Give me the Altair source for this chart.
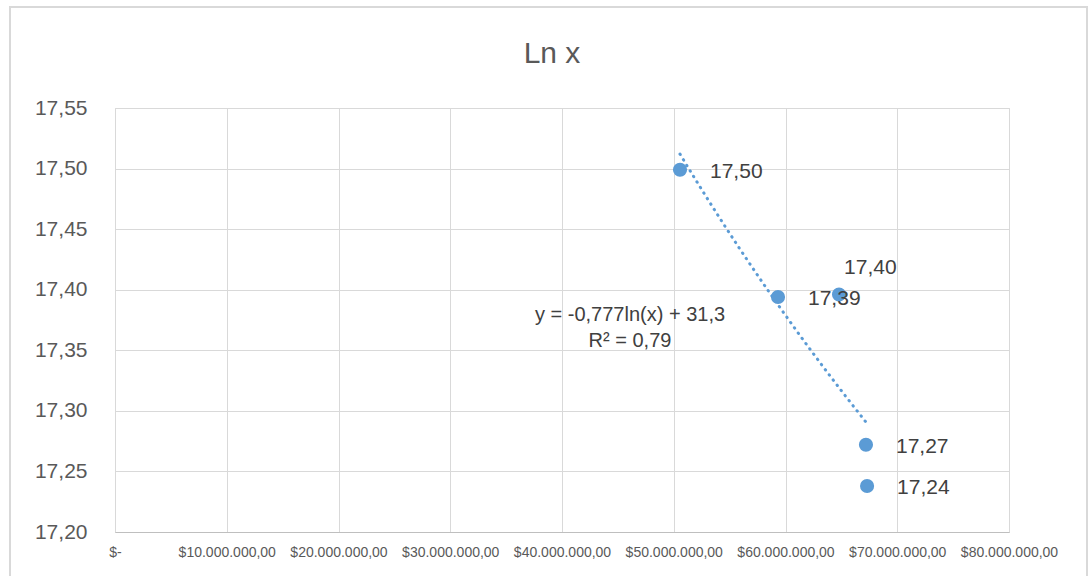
import altair as alt
import pandas as pd

# ---- data ----
x_values = [50.56e6, 59.33e6, 64.79e6, 67.20e6, 67.30e6]
y_values = [17.499, 17.394, 17.396, 17.272, 17.238]
x_ticks = [0, 10e6, 20e6, 30e6, 40e6, 50e6, 60e6, 70e6, 80e6]
y_ticks = [17.20, 17.25, 17.30, 17.35, 17.40, 17.45, 17.50, 17.55]
chart_title = "Ln x"
equation_lines = ["y = -0,777ln(x) + 31,3", "R² = 0,79"]
moved_label = "17,40"

df = pd.DataFrame({"x": x_values, "y": y_values})
df["label"] = [f"{v:.2f}".replace(".", ",") for v in y_values]

BLUE = "#5B9BD5"
GRID = "#d9d9d9"
FONT = "Liberation Sans"

x_enc = alt.X(
    "x:Q",
    scale=alt.Scale(domain=[0, 80e6], nice=False, zero=False),
    axis=alt.Axis(
        values=x_ticks,
        title=None,
        grid=True,
        gridColor=GRID,
        ticks=False,
        domainColor="#bfbfbf",
        labelFontSize=14,
        labelColor="#595959",
        labelFont=FONT,
        labelPadding=13,
        labelFlush=False,
        labelOverlap=False,
        labelExpr="datum.value == 0 ? '$-' : '$' + replace(replace(replace(format(datum.value, ',.2f'), regexp(',', 'g'), '#'), regexp('[.]', 'g'), ','), regexp('#', 'g'), '.')",
    ),
)
y_enc = alt.Y(
    "y:Q",
    scale=alt.Scale(domain=[17.20, 17.55], nice=False, zero=False),
    axis=alt.Axis(
        values=y_ticks,
        title=None,
        grid=True,
        gridColor=GRID,
        ticks=False,
        domain=False,
        labelFontSize=21,
        labelColor="#595959",
        labelFont=FONT,
        labelPadding=28,
        labelFlush=False,
        labelOverlap=False,
        labelExpr="replace(format(datum.value, '.2f'), '.', ',')",
    ),
)

base = alt.Chart(df)

border = base.mark_rect(fill=None, stroke=GRID, strokeWidth=1.5, clip=False).encode(
    x=alt.value(-105), x2=alt.value(972), y=alt.value(-101), y2=alt.value(490)
)

trend = base.transform_regression("x", "y", method="log").mark_line(
    color=BLUE, strokeWidth=3, strokeDash=[0.5, 6], strokeCap="round"
).encode(x=x_enc, y=y_enc)

points = base.mark_circle(size=200, color=BLUE, opacity=1).encode(x=x_enc, y=y_enc)

labels = base.transform_filter(alt.datum.label != moved_label).mark_text(
    align="left", baseline="middle", dx=30, dy=2, fontSize=21, font=FONT, color="#404040"
).encode(x="x:Q", y="y:Q", text="label:N")

labels_moved = base.transform_filter(alt.datum.label == moved_label).mark_text(
    align="left", baseline="middle", dx=5, dy=-27, fontSize=21, font=FONT, color="#404040"
).encode(x="x:Q", y="y:Q", text="label:N")

eq_df = pd.DataFrame({"t": [equation_lines]})
equation = alt.Chart(eq_df).mark_text(
    align="center", baseline="middle", fontSize=20, font=FONT, color="#404040", lineHeight=26
).encode(x=alt.value(515), y=alt.value(207), text="t")

title_df = pd.DataFrame({"t": [chart_title]})
title = alt.Chart(title_df).mark_text(
    align="center", baseline="alphabetic", fontSize=30, font=FONT, color="#595959"
).encode(x=alt.value(437), y=alt.value(-45), text="t")

chart = alt.layer(border, trend, points, labels, labels_moved, equation, title).properties(
    width=894,
    height=424,
    autosize=alt.AutoSizeParams(type="none"),
    padding={"left": 115, "top": 108, "right": 80, "bottom": 44},
    background="white",
).configure_view(stroke=GRID)

chart.save("out.html", embed_options={"renderer": "svg", "actions": False})
